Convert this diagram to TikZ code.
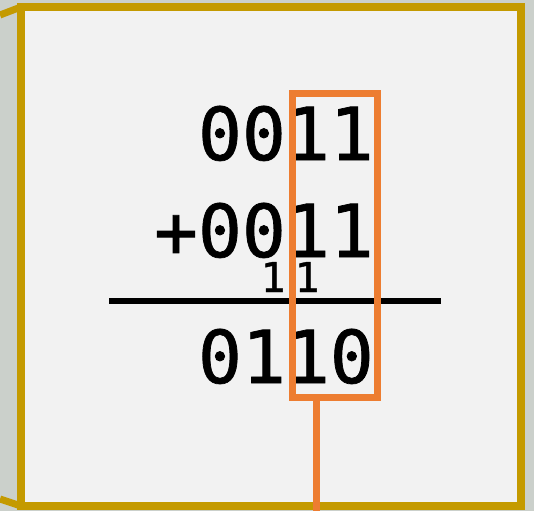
\documentclass[tikz,border=0pt]{standalone}
\usepackage{fontspec}
\newfontfamily\mono[FakeBold=1]{DejaVu Sans Mono}
\definecolor{gold}{HTML}{C49A00}
\definecolor{bggray}{HTML}{CBD0CB}
\definecolor{boxfill}{HTML}{F2F2F2}
\definecolor{hlorange}{HTML}{ED7D31}
\tikzset{
  bigdigits/.style={inner sep=0pt, anchor=base east, text depth=0pt, font=\mono\fontsize{73}{73}\selectfont},
  carry/.style={inner sep=0pt, anchor=base, text depth=0pt, font=\mono\fontsize{41}{41}\selectfont},
  goldline/.style={draw=gold, line width=8pt},
  hlbox/.style={draw=hlorange, line width=7pt},
}
\begin{document}
\begin{tikzpicture}[x=1pt,y=-1pt]
\useasboundingbox (0,0) rectangle (534,511);
\fill[bggray] (0,0) rectangle (534,511);
\draw[gold, line width=7pt] (0,15) -- (21,7);
\draw[gold, line width=7pt] (0,499) -- (21,506);
\node[goldline, fill=boxfill, minimum width=499.5pt, minimum height=498.5pt, inner sep=0pt] (box) at (270.75,256.25) {};
\node[bigdigits] (r1) at (374,160) {0011};
\node[bigdigits] (r2) at (374,257) {+0011};
\node[carry] (c1) at (273,292) {1};
\node[carry] (c2) at (307,292) {1};
\coordinate (ls) at (109,300.5);
\coordinate (le) at (441,300.5);
\draw[black, line width=6pt] (ls) -- (le);
\node[bigdigits] (r3) at (374,383) {0110};
\node[hlbox, minimum width=85pt, minimum height=304pt, inner sep=0pt] (hl) at (334.5,245) {};
\coordinate (tail) at (316,511);
\draw[hlorange, line width=7pt] (hl.south -| tail) -- (tail);
\end{tikzpicture}
\end{document}
